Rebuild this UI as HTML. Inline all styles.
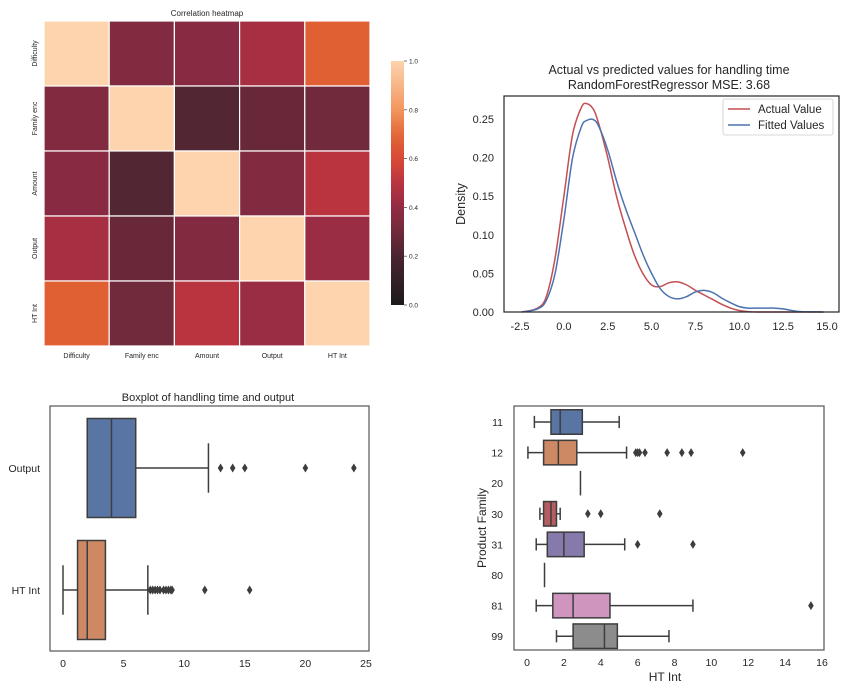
<!DOCTYPE html>
<html><head><meta charset="utf-8"><style>
html,body{margin:0;padding:0;background:#fff;}
svg{display:block;font-family:"Liberation Sans","DejaVu Sans",sans-serif;}
</style></head><body>
<svg id="fig" width="858" height="698" viewBox="0 0 858 698"></svg>
<script>
// ---------- DATA ----------
const heatLabels = ["Difficulty","Family enc","Amount","Output","HT Int"];
const heatRow0 = [1.00,0.35,0.37,0.45,0.68];
const heatRow1 = [0.35,1.00,0.22,0.28,0.30];
const heatRow2 = [0.37,0.22,1.00,0.35,0.50];
const heatRow3 = [0.45,0.28,0.35,1.00,0.42];
const heatRow4 = [0.68,0.30,0.50,0.42,1.00];
const cbarTicks = [0.0,0.2,0.4,0.6,0.8,1.0];

const kdeX = [-2.4,-1.5,-1,-0.5,0,0.5,1,1.3,1.7,2,2.5,3,3.5,4,4.5,5,5.5,6,6.5,7,7.5,8,8.5,9,9.5,10,10.5,11,11.5,12,12.5,13,13.5,14.8];
const kdeActual = [0,0.005,0.02,0.07,0.15,0.23,0.265,0.27,0.262,0.243,0.2,0.15,0.11,0.075,0.05,0.035,0.033,0.038,0.039,0.035,0.028,0.022,0.016,0.01,0.005,0.002,0.0005,0,0,0,0,0,0,0];
const kdeFitted = [0,0.004,0.015,0.05,0.12,0.2,0.24,0.248,0.249,0.24,0.21,0.17,0.135,0.105,0.075,0.05,0.03,0.02,0.017,0.02,0.026,0.028,0.025,0.018,0.012,0.007,0.005,0.005,0.005,0.005,0.004,0.002,0.0005,0];
const kdeXTicks = [-2.5,0,2.5,5,7.5,10,12.5,15];
const kdeYTicks = [0,0.05,0.1,0.15,0.2,0.25];

const box1Cats = ["Output","HT Int"];
const box1Stats = [[2,2,4,6,12],[0,1.2,2,3.5,7]];
const box1Outliers = [[13,14,15,20,24],[7.2,7.4,7.6,7.8,8,8.3,8.5,8.7,8.9,9,11.7,15.4]];
const box1Ticks = [0,5,10,15,20,25];

const box2Cats = ["11","12","20","30","31","80","81","99"];
const box2Stats = [[0.4,1.3,1.8,3,5],[0.05,0.9,1.7,2.7,5.4],[2.9,2.9,2.9,2.9,2.9],[0.7,0.9,1.3,1.6,1.8],[0.5,1.1,2,3.1,5.3],[0.95,0.95,0.95,0.95,0.95],[0.5,1.4,2.5,4.5,9],[1.6,2.5,4.2,4.9,7.7]];
const box2Outliers = [[],[5.9,6,6.1,6.4,7.6,8.4,8.9,11.7],[],[3.3,4,7.2],[6,9],[],[15.4],[]];
const box2Ticks = [0,2,4,6,8,10,12,14,16];

// ---------- HELPERS ----------
const NS="http://www.w3.org/2000/svg";
const svg=document.getElementById('fig');
function mk(tag,attrs,parent,text){const e=document.createElementNS(NS,tag);for(const k in attrs)e.setAttribute(k,attrs[k]);if(text!==undefined)e.textContent=text;(parent||svg).appendChild(e);return e;}
function grp(name,parent){const g=mk('g',{},parent);return g;}
const TXT='#262626';

const cmStops=[[0,[28,26,26]],[0.2,[74,37,48]],[0.3,[113,41,60]],[0.4,[146,43,68]],[0.5,[185,52,63]],[0.6,[216,74,55]],[0.68,[224,96,52]],[0.8,[242,150,94]],[1,[253,212,173]]];
function cmap(v){for(let i=1;i<cmStops.length;i++){if(v<=cmStops[i][0]){const a=cmStops[i-1],b=cmStops[i],t=(v-a[0])/(b[0]-a[0]);const c=a[1].map((x,j)=>Math.round(x+(b[1][j]-x)*t));return `rgb(${c.join(',')})`;}}return 'rgb(253,212,173)';}

// ---------- HEATMAP ----------
(function(){
 const g=grp('correlation-heatmap');
 const rows=[heatRow0,heatRow1,heatRow2,heatRow3,heatRow4];
 const x0=44,y0=21,W=326,H=325,cw=W/5,ch=H/5;
 mk('text',{x:207,y:16,'text-anchor':'middle','font-size':8,fill:TXT},g,'Correlation heatmap');
 rows.forEach((r,i)=>r.forEach((v,j)=>{
  const c=mk('rect',{x:x0+j*cw,y:y0+i*ch,width:cw,height:ch,fill:cmap(v),stroke:'#fff','stroke-width':1.2},g);
  
  
 }));
 heatLabels.forEach((l,i)=>{
  const t=mk('text',{x:x0+(i+0.5)*cw,y:358,'text-anchor':'middle','font-size':7,fill:TXT},g,l);
  
  const cy=y0+(i+0.5)*ch;
  const t2=mk('text',{x:0,y:0,transform:`translate(37,${cy}) rotate(-90)`,'text-anchor':'middle','font-size':7,fill:TXT},g,l);
  
 });
 const cb=grp('colorbar',g);
 const defs=mk('defs',{},cb);
 const lg=mk('linearGradient',{id:'cbg',x1:0,y1:1,x2:0,y2:0},defs);
 for(let k=0;k<=20;k++)mk('stop',{offset:k/20,'stop-color':cmap(k/20)},lg);
 const cx=391,cy0=61,cy1=305;
 mk('rect',{x:cx,y:cy0,width:13,height:cy1-cy0,fill:'url(#cbg)'},cb);
 cbarTicks.forEach(v=>{const y=cy1-(cy1-cy0)*v;mk('line',{x1:404,x2:407,y1:y,y2:y,stroke:'#555','stroke-width':0.8},cb);
  const t=mk('text',{x:409,y:y+2.5,'font-size':6.5,fill:TXT},cb,v.toFixed(1));});
})();

// ---------- KDE ----------
(function(){
 const g=grp('density-chart');
 const L=504,R=839,T=96,B=312;
 const sx=v=>520+(v+2.5)*(307/17.5), sy=v=>312-v*772;
 mk('text',{x:669,y:74,'text-anchor':'middle','font-size':12.5,fill:TXT},g,'Actual vs predicted values for handling time');
 mk('text',{x:669,y:89,'text-anchor':'middle','font-size':12.5,fill:TXT},g,'RandomForestRegressor MSE: 3.68');
 kdeXTicks.forEach(v=>{const t=mk('text',{x:sx(v),y:330,'text-anchor':'middle','font-size':11,fill:TXT},g,v.toFixed(1));});
 kdeYTicks.forEach(v=>{const t=mk('text',{x:494,y:sy(v)+4,'text-anchor':'end','font-size':11,fill:TXT},g,v.toFixed(2));});
 mk('text',{x:0,y:0,transform:'translate(465,204) rotate(-90)','text-anchor':'middle','font-size':12.5,fill:TXT},g,'Density');
 function line(ys,col,name){
  const P=kdeX.map((x,i)=>[sx(x),sy(ys[i])]);
  let d='M'+P[0][0].toFixed(1)+','+P[0][1].toFixed(1);
  for(let i=0;i<P.length-1;i++){
   const p0=P[Math.max(0,i-1)],p1=P[i],p2=P[i+1],p3=P[Math.min(P.length-1,i+2)];
   const c1=[p1[0]+(p2[0]-p0[0])/6,p1[1]+(p2[1]-p0[1])/6];
   const c2=[p2[0]-(p3[0]-p1[0])/6,p2[1]-(p3[1]-p1[1])/6];
   d+=` C${c1[0].toFixed(1)},${c1[1].toFixed(1)} ${c2[0].toFixed(1)},${c2[1].toFixed(1)} ${p2[0].toFixed(1)},${p2[1].toFixed(1)}`;
  }
  const p=mk('path',{d:d,fill:'none',stroke:col,'stroke-width':1.5,'stroke-linejoin':'round'},g);}
 line(kdeActual,'#c44e52','actual-value-line');
 line(kdeFitted,'#4c72b0','fitted-values-line');
 mk('rect',{x:L,y:T,width:R-L,height:B-T,fill:'none',stroke:'#262626','stroke-width':1.2},g);
 const lgd=grp('legend',g);
 mk('rect',{x:723,y:99,width:110,height:36,fill:'#fff',stroke:'#ccc','stroke-width':0.8,rx:2},lgd);
 mk('line',{x1:728,x2:750,y1:109,y2:109,stroke:'#c44e52','stroke-width':1.5},lgd);
 mk('text',{x:758,y:113,'font-size':11.5,fill:TXT},lgd,'Actual Value');
 mk('line',{x1:728,x2:750,y1:125,y2:125,stroke:'#4c72b0','stroke-width':1.5},lgd);
 mk('text',{x:758,y:129,'font-size':11.5,fill:TXT},lgd,'Fitted Values');
})();

function drawBox(g,sx,cy,h,st,outs,fill,name){
 const b=grp(name,g);
 const [wl,q1,md,q3,wh]=st, col='#3d3d3d';
 if(q3-q1>0){
  mk('line',{x1:sx(wl),x2:sx(q1),y1:cy,y2:cy,stroke:col,'stroke-width':1.5},b);
  mk('line',{x1:sx(q3),x2:sx(wh),y1:cy,y2:cy,stroke:col,'stroke-width':1.5},b);
  mk('line',{x1:sx(wl),x2:sx(wl),y1:cy-h/4,y2:cy+h/4,stroke:col,'stroke-width':1.5},b);
  mk('line',{x1:sx(wh),x2:sx(wh),y1:cy-h/4,y2:cy+h/4,stroke:col,'stroke-width':1.5},b);
  mk('rect',{x:sx(q1),y:cy-h/2,width:sx(q3)-sx(q1),height:h,fill:fill,stroke:col,'stroke-width':1.5},b);
  mk('line',{x1:sx(md),x2:sx(md),y1:cy-h/2,y2:cy+h/2,stroke:col,'stroke-width':1.5},b);
 } else {
  mk('line',{x1:sx(md),x2:sx(md),y1:cy-h/2,y2:cy+h/2,stroke:col,'stroke-width':1.5},b);
 }
 outs.forEach(o=>{const x=sx(o);const d=mk('path',{d:`M${x},${cy-4.5} L${x+2.8},${cy} L${x},${cy+4.5} L${x-2.8},${cy} Z`,fill:col},b);
  });
}

(function(){
 const g=grp('boxplot-handling-output');
 const sx=v=>63+v*(303/25);
 mk('text',{x:208,y:401,'text-anchor':'middle','font-size':11,fill:TXT},g,'Boxplot of handling time and output');
 const fills=['#5975a4','#cc8963'];const cys=[468,590];
 box1Cats.forEach((c,i)=>{
  drawBox(g,sx,cys[i],99,box1Stats[i],box1Outliers[i],fills[i],'box-'+c.toLowerCase().replace(' ','-'));
  const t=mk('text',{x:40,y:cys[i]+4,'text-anchor':'end','font-size':10.5,fill:TXT},g,c);
 });
 box1Ticks.forEach(v=>{const t=mk('text',{x:sx(v),y:667,'text-anchor':'middle','font-size':10.5,fill:TXT},g,v);});
 mk('rect',{x:50,y:406,width:319,height:245,fill:'none',stroke:'#555','stroke-width':1.2},g);
})();

(function(){
 const g=grp('boxplot-product-family');
 const sx=v=>527+v*(295/16);
 const fills=['#5975a4','#cc8963','#5f9e6e','#b55d60','#857aab','#8d7866','#d095bf','#8c8c8c'];
 box2Cats.forEach((c,i)=>{
  const cy=422+i*30.6;
  drawBox(g,sx,cy,24.5,box2Stats[i],box2Outliers[i],fills[i],'box-family-'+c);
  const t=mk('text',{x:503,y:cy+4,'text-anchor':'end','font-size':10.5,fill:TXT},g,c);
 });
 box2Ticks.forEach(v=>{const t=mk('text',{x:sx(v),y:666,'text-anchor':'middle','font-size':10.5,fill:TXT},g,v);});
 mk('text',{x:665,y:681,'text-anchor':'middle','font-size':12,fill:TXT},g,'HT Int');
 mk('text',{x:0,y:0,transform:'translate(486,528) rotate(-90)','text-anchor':'middle','font-size':12,fill:TXT},g,'Product Family');
 mk('rect',{x:514,y:406,width:310,height:244,fill:'none',stroke:'#555','stroke-width':1.2},g);
})();
</script>
</body></html>
